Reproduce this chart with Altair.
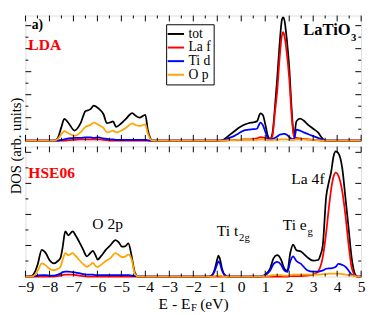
import altair as alt
import pandas as pd

SERIES = ["tot", "La f", "Ti d", "O p"]
COLORS = ["#000000", "#ff0000", "#0000ff", "#ffa500"]

# ---------- LDA panel (energies in eV, DOS in arb. units) ----------
E_lda = [-9.0, -7.8, -7.65, -7.5, -7.38, -7.2, -6.95, -6.7, -6.5, -6.3, -6.15, -5.95, -5.75,
         -5.6, -5.45, -5.35, -5.22, -5.0, -4.8, -4.55, -4.4, -4.25, -4.0, -3.9, -3.8, -3.7,
         -1.0, -0.75, -0.5, -0.3, -0.1, 0.1, 0.3, 0.5, 0.65, 0.8, 0.9, 1.0, 1.1, 1.2, 1.3,
         1.4, 1.5, 1.6, 1.7, 1.75, 1.8, 1.9, 2.0, 2.1, 2.2, 2.3, 2.45, 2.6, 2.8, 3.0, 3.2,
         3.4, 3.55, 5.0]
tot_lda = [0, 0, 3, 15, 23.7, 19, 11, 19, 32, 34, 38, 35, 29, 19, 20, 21, 15, 19, 24, 30, 27,
           25, 28, 12, 3, 0,
           0, 1, 6, 10, 14, 17, 19, 20, 21, 29.7, 28, 18, 6, 2, 8, 35, 68, 105, 132, 134, 131,
           110, 80, 35, 5, 21, 24, 22, 17, 13, 9, 2, 0, 0]
laf_lda = [0, 0, 0, 0, 0, 0.5, 1, 1.5, 1.5, 1.5, 1.5, 1.5, 1, 0.5, 0, 0, 0, 0, 0, 0, 0, 0, 0,
           0, 0, 0,
           0, 0, 0.5, 1, 1, 1.5, 1.5, 2, 2.5, 4, 3.5, 3, 2, 1.5, 5, 30, 54, 90, 115, 118, 114,
           95, 68, 28, 4, 3, 2.5, 2, 1.5, 1, 0.5, 0, 0, 0]
tid_lda = [0, 0, 0, 1, 1.5, 2.5, 3, 3, 3.5, 3.5, 3, 3.5, 2.5, 2, 1.5, 1.5, 1, 1, 1, 1, 1, 1,
           1, 0.5, 0, 0,
           0, 0.5, 3, 5, 8, 11, 12, 12.5, 13, 19.7, 17, 10, 3, 1, 2, 3, 4.5, 6.5, 7, 7.5, 7.5,
           6.5, 4, 2, 1.5, 12, 11, 9, 7, 5, 3, 1, 0, 0]
op_lda = [0, 0, 2, 7, 10.3, 8, 5.3, 9, 15, 17, 19.7, 17, 14, 9, 10, 11, 9, 11, 14, 18.7, 17,
          16, 17.7, 8, 2, 0,
          0, 0, 0.5, 0.5, 1, 1, 1, 1, 1, 1.5, 1.5, 1, 0.5, 0.5, 0.5, 1, 1, 1.5, 1.5, 1.5, 1.5,
          1.5, 1, 1, 1, 1.5, 1.5, 1.5, 1, 1, 0.5, 0, 0, 0]

# ---------- HSE06 panel ----------
E_hse = [-9.0, -8.75, -8.6, -8.49, -8.32, -8.15, -8.0, -7.81, -7.65, -7.54, -7.45, -7.34,
         -7.21, -7.03, -6.9, -6.76, -6.6, -6.44, -6.3, -6.19, -6.08, -5.99, -5.85, -5.65,
         -5.45, -5.25, -5.1, -4.98, -4.85, -4.71, -4.57, -4.44, -4.3,
         -1.35, -1.2, -1.1, -1.0, -0.95, -0.9, -0.8, -0.7, -0.55,
         0.8, 1.0, 1.2, 1.35, 1.5, 1.65, 1.8, 1.92, 2.05, 2.16, 2.3, 2.49, 2.75, 3.0, 3.2,
         3.3, 3.4, 3.54, 3.65, 3.75, 3.85, 3.94, 4.05, 4.21, 4.35, 4.48, 4.6, 4.75, 4.85, 5.0]
tot_hse = [0, 0.5, 5, 12.5, 27.5, 24, 17, 13.5, 16, 19.2, 30, 46.5, 42.5, 46.5, 42, 35.8, 28,
           20.8, 24, 26.5, 22, 17.5, 21, 27.5, 32.5, 37.5, 35, 30.8, 31, 34.2, 20.8, 4.2, 0,
           0, 2, 8, 18, 21.5, 19, 8, 2, 0,
           0, 2, 8, 19, 22, 18, 8, 5.7, 25, 33, 27, 25.7, 20, 16.3, 17, 22, 32, 82, 97, 108,
           124, 129, 127, 112, 80, 49, 20, 2.3, 0, 0]
laf_hse = [0, 0, 0, 0, 0, 0, 0, 0, 0.5, 1, 1.5, 2, 2, 2, 1.5, 1, 0.5, 0, 0, 0, 0, 0, 0, 0, 0,
           0, 0, 0, 0, 0, 0, 0, 0,
           0, 0, 0, 0, 0, 0, 0, 0, 0,
           0, 0, 0, 0, 0, 0, 0, 0, 0.5, 0.5, 0.5, 0.5, 1, 2, 5, 10, 20, 45, 70, 90, 103, 107,
           104, 88, 62, 32, 10, 1, 0, 0]
tid_hse = [0, 0, 0.5, 1, 1.5, 1.5, 1, 1, 2, 3, 4.5, 5, 5, 4.5, 4, 3.5, 2.5, 2, 2, 2, 1.5, 1.5,
           1.5, 1.5, 1.5, 1.5, 1.5, 1.5, 1.5, 1.5, 1, 0.5, 0,
           0, 1.5, 6, 13, 15.5, 14, 6, 1.5, 0,
           0, 1.5, 6, 13, 15, 12.5, 6, 4.7, 16, 20.7, 16, 13, 6.5, 5, 5, 5.5, 6.3, 8, 8.5, 8.5,
           9, 10, 13, 12, 10, 6, 2, 0.5, 0, 0]
op_hse = [0, 0, 2, 5.8, 13.5, 11.5, 8, 6.5, 8, 10, 17, 24.2, 22, 24, 21, 17, 13, 10, 12, 14,
          11, 9.8, 12, 16, 19, 24.2, 22, 20, 20.5, 22.5, 17.5, 3, 0,
          0, 0, 0.5, 1, 1, 1, 0.5, 0, 0,
          0, 0.5, 1, 1.5, 1.5, 1.5, 1, 1, 1.5, 2, 2, 2, 2, 2, 2, 2, 2.5, 2.5, 3, 3, 3, 3, 3,
          2.5, 2, 1.5, 1, 0.5, 0, 0]

# ---------- ticks ----------
XT_MAJOR = [-9, -8, -7, -6, -5, -4, -3, -2, -1, 0, 1, 2, 3, 4, 5]
XT_MINOR = [-8.5, -7.5, -6.5, -5.5, -4.5, -3.5, -2.5, -1.5, -0.5, 0.5, 1.5, 2.5, 3.5, 4.5]
YT_LDA_MAJOR = [25, 50, 75, 100, 125]
YT_LDA_MINOR = [12.5, 37.5, 62.5, 87.5, 112.5]
YT_HSE_MAJOR = [32, 64, 96, 128]
YT_HSE_MINOR = [16, 48, 80, 112]

# ---------- annotations (anchor energy, anchor DOS, text) ----------
LDA_LABEL = {"E": [-8.88], "DOS": [99.1], "t": ["LDA"]}
A_LABEL = {"E": [-8.74], "DOS": [121.5], "t": ["a)"]}
COMP_MAIN = {"E": [4.56], "DOS": [114.5], "t": ["LaTiO"]}
COMP_SUB = {"E": [4.58], "DOS": [108.5], "t": ["3"]}
HSE_LABEL = {"E": [-8.88], "DOS": [101.5], "t": ["HSE06"]}
HSE_MAIN = {"E": [-6.21, -1.02, 1.73, 2.09], "DOS": [49.0, 41.5, 47.5, 95.5],
            "t": ["O 2p", "Ti t", "Ti e", "La 4f"]}
HSE_SUB = {"E": [-0.09, 2.76], "DOS": [37.0, 43.0], "t": ["2g", "g"]}
XTITLE_MAIN = {"E": [-2.117, -1.713], "t": ["E - E", "(eV)"]}
XTITLE_SUB = {"E": [-2.097], "t": ["F"]}

W = 346
H_TOP = 129
H_BOT = 134
FONT = "Liberation Serif"

XS = alt.Scale(domain=[-9, 5], nice=False, zero=False)


def long_df(E, cols):
    rows = []
    for name, vals in zip(SERIES, cols):
        for e, v in zip(E, vals):
            rows.append({"E": e, "DOS": v, "series": name})
    return pd.DataFrame(rows)


def panel(E, cols, H, ydom, ytmaj, ytmin, xaxis, yaxis, legend, texts):
    df = long_df(E, cols)
    ys = alt.Scale(domain=ydom, nice=False, zero=True)
    xenc = alt.X("E:Q", scale=XS, axis=xaxis)
    layers = []
    for name in SERIES:
        layers.append(
            alt.Chart(df).transform_filter(alt.datum.series == name)
            .mark_line(strokeWidth=1.8, interpolate="monotone")
            .encode(
                x=xenc,
                y=alt.Y("DOS:Q", scale=ys, axis=yaxis),
                color=alt.Color("series:N", scale=alt.Scale(domain=SERIES, range=COLORS),
                                legend=legend),
            )
        )
    # inward ticks on all four sides
    for vals, ln in ((XT_MAJOR, 6), (XT_MINOR, 3)):
        d = pd.DataFrame({"E": vals})
        layers.append(alt.Chart(d).mark_rule(color="black", strokeWidth=1).encode(
            x=xenc, y=alt.value(H), y2=alt.value(H - ln)))
        layers.append(alt.Chart(d).mark_rule(color="black", strokeWidth=1).encode(
            x=xenc, y=alt.value(0), y2=alt.value(ln)))
    for vals, ln in ((ytmaj, 6), (ytmin, 3)):
        d = pd.DataFrame({"DOS": vals})
        layers.append(alt.Chart(d).mark_rule(color="black", strokeWidth=1).encode(
            y=alt.Y("DOS:Q", scale=ys, axis=yaxis), x=alt.value(0), x2=alt.value(ln)))
        layers.append(alt.Chart(d).mark_rule(color="black", strokeWidth=1).encode(
            y=alt.Y("DOS:Q", scale=ys, axis=yaxis), x=alt.value(W - ln), x2=alt.value(W)))
    for tdata, style in texts:
        d = pd.DataFrame(tdata)
        layers.append(alt.Chart(d).mark_text(font=FONT, baseline="alphabetic", **style).encode(
            x=xenc, y=alt.Y("DOS:Q", scale=ys, axis=yaxis), text="t:N"))
    return alt.layer(*layers).properties(width=W, height=H)


yaxis_top = alt.Axis(title="DOS (arb. units)", labels=False, ticks=False, domain=False,
                     grid=False, titleFont=FONT, titleFontSize=15, titleFontWeight="normal",
                     titleColor="black", titlePadding=2, titleY=134)
legend = alt.Legend(title=None, orient="none", legendX=145, legendY=9, strokeColor="black",
                    fillColor="white", padding=3, labelFont=FONT, labelFontSize=14,
                    labelColor="black", symbolType="M-1.4,0H1.4", symbolSize=144,
                    symbolStrokeWidth=2, rowPadding=-1, labelOffset=6, cornerRadius=0)

top = panel(E_lda, [tot_lda, laf_lda, tid_lda, op_lda], H_TOP, [0, 136],
            YT_LDA_MAJOR, YT_LDA_MINOR, None, yaxis_top, legend,
            [(A_LABEL, dict(fontSize=14, fontWeight="bold", color="black", align="left")),
             (LDA_LABEL, dict(fontSize=16, fontWeight="bold", color="red", align="left")),
             (COMP_MAIN, dict(fontSize=17, fontWeight="bold", color="black", align="right")),
             (COMP_SUB, dict(fontSize=11, fontWeight="bold", color="black", align="left"))])

xaxis_bot = alt.Axis(title=None, values=XT_MAJOR, ticks=False, domain=False, grid=False,
                     labelFont=FONT, labelFontSize=16, labelColor="black", labelPadding=2,
                     labelFlush=False, format="d")
yaxis_bot = alt.Axis(title=None, labels=False, ticks=False, domain=False, grid=False)

bottom = panel(E_hse, [tot_hse, laf_hse, tid_hse, op_hse], H_BOT, [0, 134],
               YT_HSE_MAJOR, YT_HSE_MINOR, xaxis_bot, yaxis_bot, None,
               [(HSE_LABEL, dict(fontSize=16, fontWeight="bold", color="red", align="left")),
                (HSE_MAIN, dict(fontSize=16, color="black", align="left")),
                (HSE_SUB, dict(fontSize=11, color="black", align="left"))])

xt1 = alt.Chart(pd.DataFrame({"E": [XTITLE_MAIN["E"][0]], "t": [XTITLE_MAIN["t"][0]]})).mark_text(
    font=FONT, fontSize=16, color="black", align="right", baseline="alphabetic").encode(
    x=alt.X("E:Q", scale=XS, axis=xaxis_bot), y=alt.value(H_BOT + 33), text="t:N")
xt2 = alt.Chart(pd.DataFrame({"E": [XTITLE_MAIN["E"][1]], "t": [XTITLE_MAIN["t"][1]]})).mark_text(
    font=FONT, fontSize=16, color="black", align="left", baseline="alphabetic").encode(
    x=alt.X("E:Q", scale=XS, axis=xaxis_bot), y=alt.value(H_BOT + 33), text="t:N")
xt3 = alt.Chart(pd.DataFrame(XTITLE_SUB)).mark_text(
    font=FONT, fontSize=11, color="black", align="left", baseline="alphabetic").encode(
    x=alt.X("E:Q", scale=XS, axis=xaxis_bot), y=alt.value(H_BOT + 36), text="t:N")

bottom = alt.layer(bottom, xt1, xt2, xt3).properties(width=W, height=H_BOT)

chart = alt.vconcat(top, bottom, spacing=6, bounds="flush").resolve_scale(
    color="independent").properties(
    padding={"left": 0, "top": 0, "right": 0, "bottom": 0}
).configure_view(stroke="black", strokeWidth=1.2).configure(font=FONT)

chart.save("out.html", embed_options={"renderer": "svg", "actions": False})
